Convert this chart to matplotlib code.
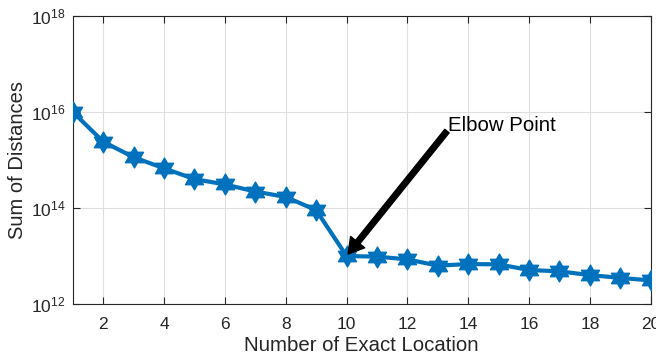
import numpy as np
import matplotlib as mpl
mpl.use('Agg')
import matplotlib.pyplot as plt
from matplotlib.path import Path
from matplotlib.ticker import FixedLocator, NullLocator

plt.rcParams['font.family'] = ['Liberation Sans', 'DejaVu Sans']
plt.rcParams['mathtext.fontset'] = 'custom'
plt.rcParams['mathtext.rm'] = 'Liberation Sans'

# data
n_loc = list(range(1, 21))
sum_dist = [1.0e16, 2.4e15, 1.14e15, 6.7e14, 4.0e14, 3.1e14, 2.2e14, 1.7e14, 9.0e13,
            1.0e13, 9.7e12, 8.5e12, 6.3e12, 6.8e12, 6.7e12, 5.1e12, 4.8e12, 4.0e12,
            3.5e12, 3.1e12]
x_ticks = list(range(2, 21, 2))
y_ticks = [1e12, 1e14, 1e16, 1e18]

# six-pointed star like matlab's 'hexagram'
ang = np.pi / 2 + np.arange(12) * np.pi / 6
rad = np.where(np.arange(12) % 2 == 0, 1.0, 1 / np.sqrt(3))
verts = np.column_stack([rad * np.cos(ang), rad * np.sin(ang)])
verts = np.vstack([verts, verts[:1]])
hexagram = Path(verts, [Path.MOVETO] + [Path.LINETO] * 11 + [Path.CLOSEPOLY])

fig = plt.figure(figsize=(6.56, 3.63), dpi=100)
ax = fig.add_axes([0.111, 0.1625, 0.881, 0.7935])

ax.semilogy(n_loc, sum_dist, color='#0072BD', lw=3, marker=hexagram, ms=15,
            mec='#0072BD', mfc='#0072BD', zorder=3)

ax.set_xlim(1, 20)
ax.set_ylim(1e12, 1e18)
ax.set_xticks(x_ticks)
ax.yaxis.set_major_locator(FixedLocator(y_ticks))
ax.yaxis.set_minor_locator(NullLocator())
ax.grid(True, color='#dedede', lw=0.8)
ax.set_axisbelow(True)
ax.tick_params(direction='in', top=True, right=True, labelsize=12.5,
               colors='#262626', length=5, width=0.8)
ax.tick_params(axis='x', pad=9)
ax.tick_params(axis='y', pad=5)
for s in ax.spines.values():
    s.set_color('#262626')
    s.set_linewidth(0.8)

ax.set_xlabel('Number of Exact Location', fontsize=14.7, color='#262626', labelpad=3)
ax.set_ylabel('Sum of Distances', fontsize=14.5, color='#262626', labelpad=3)

ax.annotate('', xy=(10.05, 1.1e13), xytext=(13.3, 4.0e15),
            arrowprops=dict(facecolor='black', edgecolor='black', width=4,
                            headwidth=13, headlength=11, shrink=0))
ax.text(13.35, 5.3e15, 'Elbow Point', fontsize=14.7, color='black',
        ha='left', va='center')

fig.savefig('out.png', dpi=100)
